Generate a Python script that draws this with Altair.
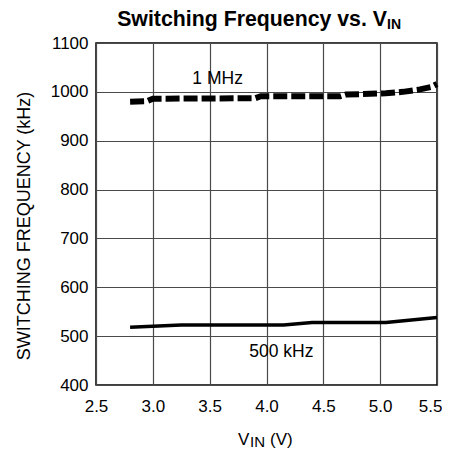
import altair as alt
import pandas as pd

# 1 MHz curve (dashed)
v_1mhz = [2.8, 2.95, 3.0, 3.9, 3.95, 4.65, 4.7, 5.05, 5.2, 5.35, 5.45, 5.5]
f_1mhz = [980, 981, 986, 987, 991, 991, 994.5, 997, 1000, 1005, 1010, 1016]
# 500 kHz curve (solid)
v_500k = [2.8, 3.0, 3.25, 4.15, 4.4, 5.05, 5.5]
f_500k = [518, 520, 523, 523, 528, 528, 538]

x_ticks = [2.5, 3.0, 3.5, 4.0, 4.5, 5.0, 5.5]
y_ticks = [400, 500, 600, 700, 800, 900, 1000, 1100]

label_text = ["1 MHz", "500 kHz"]
label_v = [3.57, 4.13]
label_f = [1017, 458]

FONT = "Liberation Sans"

df_1m = pd.DataFrame({"V": v_1mhz, "F": f_1mhz})
df_500 = pd.DataFrame({"V": v_500k, "F": f_500k})
df_lab = pd.DataFrame({"V": label_v, "F": label_f, "t": label_text})

X = alt.X("V:Q", scale=alt.Scale(domain=[2.5, 5.5], nice=False, zero=False),
          axis=alt.Axis(values=x_ticks, format=".1f", title=None, ticks=False,
                        domain=False, labelPadding=13, labelFontSize=17,
                        labelFlush=False, labelOverlap=False,
                        labelAlign=alt.condition("datum.value >= 5.5", alt.value("right"), alt.value("center")),
                        labelOffset=alt.condition("datum.value >= 5.5", alt.value(5), alt.value(0))))
Y = alt.Y("F:Q", scale=alt.Scale(domain=[400, 1100], nice=False, zero=False),
          axis=alt.Axis(values=y_ticks, format="d", title="SWITCHING FREQUENCY (kHz)", ticks=False,
                        domain=False, labelPadding=8, labelFontSize=17,
                        titleFontSize=18, titleFontWeight="normal",
                        titleX=-63, titleY=182.5, titleAngle=-90,
                        titleBaseline="bottom", titleAlign="center"))

dashed = alt.Chart(df_1m).mark_line(
    color="black", strokeWidth=6, strokeDash=[14, 4], strokeCap="butt"
).encode(x=X, y=Y)

solid = alt.Chart(df_500).mark_line(
    color="black", strokeWidth=3.5
).encode(x=X, y=Y)

labels = alt.Chart(df_lab).mark_text(
    font=FONT, fontSize=17.5, color="black", align="center", baseline="alphabetic"
).encode(x=X, y=Y, text="t:N")

one = pd.DataFrame({"k": [0]})

title_main = alt.Chart(one).mark_text(
    font=FONT, fontSize=21.3, fontWeight="bold", color="black",
    align="right", baseline="alphabetic"
).encode(x=alt.value(291), y=alt.value(-17.3), text=alt.value("Switching Frequency vs. V"))

title_sub = alt.Chart(one).mark_text(
    font=FONT, fontSize=14, fontWeight="bold", color="black",
    align="left", baseline="alphabetic"
).encode(x=alt.value(291), y=alt.value(-14), text=alt.value("IN"))

xt_v = alt.Chart(one).mark_text(
    font=FONT, fontSize=17, color="black", align="left", baseline="alphabetic"
).encode(x=alt.value(142), y=alt.value(402), text=alt.value("V"))

xt_sub = alt.Chart(one).mark_text(
    font=FONT, fontSize=15, color="black", align="left", baseline="alphabetic"
).encode(x=alt.value(154), y=alt.value(404.3), text=alt.value("IN"))

xt_rest = alt.Chart(one).mark_text(
    font=FONT, fontSize=17, color="black", align="left", baseline="alphabetic"
).encode(x=alt.value(174), y=alt.value(402), text=alt.value("(V)"))

chart = alt.layer(
    solid, dashed, labels, title_main, title_sub, xt_v, xt_sub, xt_rest
).properties(
    width=341, height=342,
    autosize=alt.AutoSizeParams(type="none"),
    padding={"left": 88, "top": 35, "right": 5, "bottom": 66},
    background="white",
).configure_view(
    stroke="black", strokeWidth=1.5
).configure_axis(
    grid=True, gridColor="#4a4a4a", gridWidth=1.2, gridOpacity=1,
    labelFont=FONT, titleFont=FONT, labelColor="black", titleColor="black",
)

chart.save("out.html", embed_options={"renderer": "svg", "actions": False})
